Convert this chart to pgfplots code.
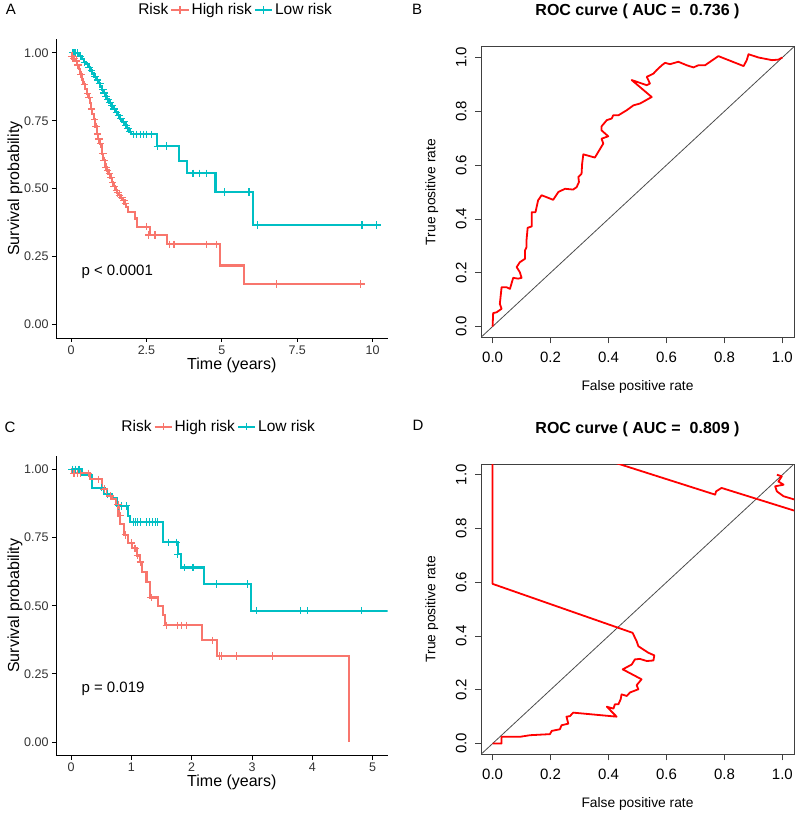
\documentclass[border=0pt]{standalone}
\usepackage{fontspec}
\setmainfont{Liberation Sans}
\usepackage{pgfplots}
\pgfplotsset{compat=1.18}

\definecolor{kmred}{HTML}{F8766D}
\definecolor{kmteal}{HTML}{00BFC4}

\pgfplotsset{
  km/.style={
    scale only axis, width=331.7pt,
    axis x line*=bottom, axis y line*=left,
    axis line style={black, line width=0.9pt},
    tick style={black, line width=0.9pt},
    tick align=outside, major tick length=4pt,
    ymin=-0.05, ymax=1.05,
    ytick={0,0.25,0.5,0.75,1}, yticklabels={0.00,0.25,0.50,0.75,1.00},
    ticklabel style={font=\fontsize{12.5}{15}\selectfont, text=black!80},
    label style={font=\fontsize{16}{19}\selectfont},
    xlabel={Time (years)}, ylabel={Survival probability},
    xlabel style={at={(axis description cs:0.53,-0.09)}, anchor=center},
    ylabel style={at={(axis description cs:-0.124,0.5)}, anchor=center},
    legend columns=-1,
    legend style={draw=none, fill=none, anchor=center,
      font=\fontsize{15.5}{18}\selectfont,
      /tikz/every odd column/.append style={column sep=0pt}},
  },
  curve/.style={const plot, line width=2.1pt, forget plot},
  cens/.style={only marks, mark=+, mark size=3.8pt, mark options={line width=1.2pt}, forget plot},
  roc/.style={
    scale only axis, width=313pt,
    xmin=-0.04, xmax=1.04, ymin=-0.04, ymax=1.04,
    xtick={0,0.2,0.4,0.6,0.8,1}, xticklabels={0.0,0.2,0.4,0.6,0.8,1.0},
    ytick={0,0.2,0.4,0.6,0.8,1}, yticklabels={0.0,0.2,0.4,0.6,0.8,1.0},
    xtick pos=left, ytick pos=left,
    axis line style={black!75, line width=0.8pt},
    tick style={black!75, line width=0.8pt},
    tick align=outside, major tick length=6pt,
    ticklabel style={font=\fontsize{15}{18}\selectfont},
    yticklabel style={rotate=90, anchor=south},
    xticklabel shift=5pt, yticklabel shift=5pt,
    label style={font=\fontsize{13.8}{16}\selectfont},
    xlabel={False positive rate}, ylabel={True positive rate},
    xlabel style={at={(axis description cs:0.5,-0.171)}, anchor=center},
    ylabel style={at={(axis description cs:-0.1575,0.5)}, anchor=center},
    title style={at={(axis description cs:0.5,1.10)}, anchor=center,
      font=\fontsize{16}{19}\selectfont\bfseries},
  },
  rocline/.style={red, line width=1.8pt, line join=round},
  diag/.style={black!70, line width=0.8pt},
}

\begin{document}
\begin{tikzpicture}[x=1pt, y=1pt]
\path[use as bounding box] (0,0) rectangle (800,815);

% ---------- A ----------
\begin{axis}[km, height=298.7pt, at={(56pt,477pt)}, anchor=south west,
  xmin=-0.5, xmax=10.5,
  xtick={0,2.5,5,7.5,10}, xticklabels={0,2.5,5,7.5,10},
  legend style={at={(axis description cs:0.54,1.098)}}]
\addlegendimage{empty legend}\addlegendentry{Risk}
\addlegendimage{kmred, line width=2.1pt, mark=+, mark size=3.8pt, mark options={line width=1.2pt}}\addlegendentry{High risk}
\addlegendimage{kmteal, line width=2.1pt, mark=+, mark size=3.8pt, mark options={line width=1.2pt}}\addlegendentry{Low risk}
% low risk
\addplot[curve, kmteal] coordinates {
(0,1.0) (0.27,0.988) (0.35,0.976) (0.42,0.965) (0.50,0.959) (0.56,0.947)
(0.63,0.935) (0.70,0.924) (0.76,0.912) (0.83,0.900) (0.90,0.888) (0.97,0.876)
(1.02,0.864) (1.08,0.852) (1.13,0.840) (1.19,0.829) (1.26,0.817) (1.33,0.805)
(1.40,0.793) (1.47,0.781) (1.54,0.770) (1.62,0.758) (1.70,0.746) (1.78,0.734)
(1.85,0.722) (1.92,0.710) (1.98,0.700) (2.84,0.656) (3.57,0.601) (3.85,0.556)
(4.79,0.488) (6.02,0.366) (10.16,0.366)};
\addplot[cens, kmteal] coordinates {
(0.05,1.0) (0.1,1.0) (0.15,1.0) (0.2,1.0) (0.3,0.988) (0.45,0.965) (0.6,0.947)
(0.68,0.935) (0.8,0.912) (0.88,0.900) (0.95,0.888) (1.05,0.864) (1.1,0.852)
(1.16,0.840) (1.22,0.829) (1.3,0.817) (1.36,0.805) (1.43,0.793) (1.5,0.781)
(1.58,0.770) (1.65,0.758) (1.75,0.746) (1.82,0.734) (1.88,0.722) (1.96,0.710)
(2.07,0.70) (2.18,0.70) (2.29,0.70) (2.40,0.70) (2.51,0.70) (2.67,0.70)
(2.86,0.656) (3.16,0.656) (4.04,0.556) (4.26,0.556) (4.48,0.556)
(5.1,0.488) (5.9,0.488) (6.19,0.366) (9.65,0.366) (10.14,0.366)};
% high risk
\addplot[curve, kmred] coordinates {
(0,1) (0.03,0.988) (0.08,0.979) (0.14,0.970) (0.19,0.955) (0.25,0.939)
(0.30,0.921) (0.36,0.902) (0.41,0.884) (0.47,0.866) (0.52,0.850) (0.58,0.835)
(0.62,0.814) (0.66,0.793) (0.70,0.775) (0.75,0.756) (0.80,0.729) (0.86,0.701)
(0.90,0.683) (0.95,0.665) (1.02,0.628) (1.07,0.604) (1.13,0.579) (1.18,0.567)
(1.24,0.555) (1.30,0.540) (1.35,0.524) (1.40,0.509) (1.46,0.494) (1.52,0.485)
(1.57,0.476) (1.64,0.467) (1.71,0.457) (1.77,0.445) (1.82,0.433) (1.90,0.415)
(2.12,0.39) (2.18,0.36) (2.61,0.329) (3.17,0.295) (4.95,0.217) (5.72,0.149)
(9.65,0.149)};
\addplot[cens, kmred] coordinates {
(0.02,0.988) (0.06,0.988) (0.1,0.979) (0.17,0.970) (0.22,0.955) (0.33,0.921)
(0.44,0.884) (0.55,0.850) (0.6,0.835) (0.68,0.793) (0.78,0.756) (0.83,0.729)
(0.88,0.701) (0.92,0.683) (0.98,0.665) (1.05,0.628) (1.1,0.604) (1.16,0.579)
(1.21,0.567) (1.27,0.555) (1.33,0.540) (1.38,0.524) (1.43,0.509) (1.5,0.494)
(1.55,0.485) (1.6,0.476) (1.68,0.467) (1.75,0.457) (1.8,0.445) (2.5,0.36)
(2.58,0.329) (2.78,0.329) (3.27,0.295) (3.41,0.295) (4.48,0.295) (4.81,0.295)
(6.82,0.149) (9.61,0.149)};
\node[anchor=west, font=\fontsize{15}{18}\selectfont] at (axis cs:0.23,0.194) {p < 0.0001};
\end{axis}

% ---------- B ----------
\begin{axis}[roc, height=290.6pt, at={(481pt,477.7pt)}, anchor=south west,
  title={ROC curve ( AUC =\ \ 0.736 )}]
\addplot[diag] coordinates {(-0.1,-0.1) (1.1,1.1)};
\addplot[rocline] coordinates {
(0,0) (0.002,0.05) (0.014,0.053) (0.031,0.066) (0.025,0.084) (0.031,0.146)
(0.048,0.146) (0.06,0.14) (0.071,0.181) (0.088,0.178) (0.1,0.181) (0.094,0.202)
(0.083,0.221) (0.094,0.239) (0.112,0.252) (0.112,0.283) (0.117,0.295) (0.117,0.32)
(0.121,0.367) (0.135,0.372) (0.135,0.394) (0.135,0.425) (0.148,0.425) (0.157,0.469)
(0.169,0.488) (0.209,0.471) (0.227,0.5) (0.25,0.512) (0.278,0.509) (0.29,0.518)
(0.298,0.537) (0.296,0.556) (0.307,0.568) (0.309,0.605) (0.313,0.64) (0.353,0.628)
(0.368,0.655) (0.382,0.680) (0.376,0.698) (0.399,0.707) (0.376,0.729) (0.376,0.744)
(0.394,0.767) (0.411,0.773) (0.416,0.785) (0.434,0.785) (0.463,0.804) (0.486,0.822)
(0.509,0.829) (0.549,0.853) (0.48,0.916) (0.532,0.897) (0.543,0.903) (0.532,0.928)
(0.555,0.94) (0.566,0.953) (0.584,0.971) (0.595,0.98) (0.612,0.975) (0.641,0.984)
(0.67,0.971) (0.693,0.963) (0.71,0.971) (0.733,0.971) (0.779,1.005) (0.866,0.968)
(0.877,0.99) (0.883,1.012) (0.917,1.0) (0.964,0.99) (0.986,0.992) (1,1)};
\end{axis}

% ---------- C ----------
\begin{axis}[km, height=300pt, at={(56pt,59.3pt)}, anchor=south west,
  xmin=-0.25, xmax=5.25,
  xtick={0,1,2,3,4,5}, xticklabels={0,1,2,3,4,5},
  legend style={at={(axis description cs:0.489,1.097)}}]
\addlegendimage{empty legend}\addlegendentry{Risk}
\addlegendimage{kmred, line width=2.1pt, mark=+, mark size=3.8pt, mark options={line width=1.2pt}}\addlegendentry{High risk}
\addlegendimage{kmteal, line width=2.1pt, mark=+, mark size=3.8pt, mark options={line width=1.2pt}}\addlegendentry{Low risk}
\addplot[curve, kmteal] coordinates {
(0,1.0) (0.18,0.98) (0.346,0.933) (0.54,0.909) (0.675,0.896) (0.76,0.866)
(0.95,0.829) (0.98,0.806) (1.527,0.732) (1.774,0.689) (1.83,0.64) (2.2,0.579)
(2.98,0.482) (5.5,0.482)};
\addplot[cens, kmteal] coordinates {
(0.02,1) (0.07,1) (0.13,1) (0.51,0.933) (0.6,0.909) (0.79,0.866) (0.84,0.866)
(0.92,0.866) (1.03,0.806) (1.07,0.806) (1.10,0.806) (1.15,0.806) (1.25,0.806)
(1.30,0.806) (1.35,0.806) (1.40,0.806) (1.43,0.806) (1.61,0.732) (1.75,0.732)
(1.77,0.689) (1.88,0.64) (2.02,0.64) (2.41,0.579) (2.93,0.579) (3.07,0.482)
(3.81,0.482) (3.92,0.482) (4.82,0.482)};
\addplot[curve, kmred] coordinates {
(0,1) (0.02,0.985) (0.31,0.963) (0.51,0.927) (0.59,0.902) (0.68,0.89) (0.74,0.87)
(0.786,0.83) (0.813,0.80) (0.879,0.76) (0.95,0.73) (1.005,0.71) (1.088,0.684)
(1.143,0.66) (1.17,0.623) (1.25,0.586) (1.31,0.53) (1.445,0.50) (1.53,0.465)
(1.555,0.428) (2.176,0.373) (2.418,0.316) (4.604,0.0)};
\addplot[cens, kmred] coordinates {
(0.05,0.985) (0.1,0.985) (0.15,0.985) (0.29,0.985) (0.45,0.963) (0.55,0.927)
(0.65,0.902) (0.78,0.87) (0.82,0.83) (0.9,0.76) (1.0,0.73) (1.06,0.71) (1.1,0.684)
(1.15,0.66) (1.33,0.53) (1.58,0.428) (1.77,0.428) (1.83,0.428) (1.91,0.428)
(2.35,0.373) (2.46,0.316) (2.49,0.316) (2.74,0.316) (3.34,0.316)};
\node[anchor=west, font=\fontsize{15}{18}\selectfont] at (axis cs:0.115,0.197) {p = 0.019};
\end{axis}

% ---------- D ----------
\begin{axis}[roc, height=290.3pt, at={(481pt,60.7pt)}, anchor=south west,
  title={ROC curve ( AUC =\ \ 0.809 )}]
\addplot[diag] coordinates {(-0.1,-0.1) (1.1,1.1)};
\addplot[rocline] coordinates {
(0,0) (0.031,0) (0.031,0.025) (0.094,0.025) (0.129,0.031) (0.198,0.035)
(0.204,0.047) (0.232,0.053) (0.238,0.068) (0.261,0.074) (0.255,0.1) (0.267,0.102)
(0.278,0.115) (0.428,0.1) (0.394,0.137) (0.417,0.13) (0.422,0.146) (0.434,0.146)
(0.442,0.165) (0.445,0.183) (0.463,0.177) (0.474,0.19) (0.503,0.202) (0.497,0.217)
(0.514,0.239) (0.449,0.276) (0.48,0.294) (0.491,0.313) (0.508,0.315) (0.532,0.307)
(0.555,0.309) (0.558,0.328) (0.537,0.338) (0.503,0.362) (0.497,0.381) (0.483,0.412)
(0,0.594) (0,1.19) (0.768,0.926) (0.771,0.938) (0.79,0.951) (1.2,0.813) (1.2,0.87)
(1.038,0.909) (1.004,0.92) (0.981,0.938) (0.975,0.957) (1.004,0.963) (0.986,0.975)
(0.998,0.994) (0.981,1.0)};
\end{axis}

% panel letters
\node[font=\fontsize{15}{18}\selectfont] at (11,805.5) {A};
\node[font=\fontsize{15}{18}\selectfont] at (417,806) {B};
\node[font=\fontsize{15}{18}\selectfont] at (10,388) {C};
\node[font=\fontsize{15}{18}\selectfont] at (418,390) {D};
\end{tikzpicture}
\end{document}
